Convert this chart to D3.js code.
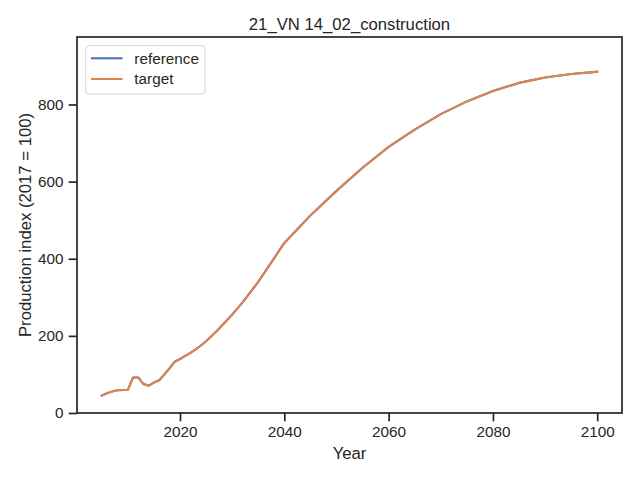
<!DOCTYPE html>
<html>
<head>
<meta charset="utf-8">
<script src="https://cdn.jsdelivr.net/npm/d3@7"></script>
<style>
  body { margin: 0; background: #fff; }
  text { font-family: "Liberation Sans", Arial, sans-serif; fill: #262626; }
</style>
</head>
<body>
<svg id="chart" width="640" height="480"></svg>
<script>
// data
const years = [2005, 2006, 2007, 2008, 2009, 2010, 2011, 2012, 2013, 2014, 2015, 2016, 2017, 2018, 2019,
  2020, 2021, 2022, 2023, 2024, 2025, 2027, 2030, 2032, 2035, 2037, 2040,
  2045, 2050, 2055, 2060, 2065, 2070, 2075, 2080, 2085, 2090, 2095, 2100]
const reference = [45, 51, 56, 59, 59.5, 60, 92, 92, 75, 71, 79, 85, 100, 116, 133,
  140, 148, 156, 165, 175, 186, 212, 255, 287, 340, 380, 441,
  512, 576, 636, 690, 735, 775, 808, 835, 856, 870, 879, 885]
const target = [45, 51, 56, 59, 59.5, 60, 92, 92, 75, 71, 79, 85, 100, 116, 133,
  140, 148, 156, 165, 175, 186, 212, 255, 287, 340, 380, 441,
  512, 576, 636, 690, 735, 775, 808, 835, 856, 870, 879, 885]
const xTicks = [2020, 2040, 2060, 2080, 2100]
const yTicks = [0, 200, 400, 600, 800]

const margin = { left: 77, right: 18, top: 37, bottom: 67 }
const w = 640, h = 480
const ink = '#262626'
const font = '"Liberation Sans", Arial, sans-serif'

const svg = d3.select('#chart')

const x = d3.scaleLinear().domain([2000.25, 2104.75]).range([margin.left, w - margin.right])
const y = d3.scaleLinear().domain([0, 975]).range([h - margin.bottom, margin.top])

// axes
const xAxis = svg.append('g').attr('transform', `translate(0,${h - margin.bottom})`)
  .call(d3.axisBottom(x).tickValues(xTicks).tickFormat(d3.format('d')).tickSizeOuter(0).tickSize(8.3).tickPadding(5))
const yAxis = svg.append('g').attr('transform', `translate(${margin.left},0)`)
  .call(d3.axisLeft(y).tickValues(yTicks).tickSizeOuter(0).tickSize(8.3).tickPadding(5.2))

;[xAxis, yAxis].forEach(a => {
  a.select('.domain').remove()
  a.selectAll('.tick line').attr('stroke', ink).attr('stroke-width', 1.7)
  a.selectAll('.tick text').attr('fill', ink).style('font-size', '15.3px').style('font-family', font)
})

// lines
const line = vals => d3.line().x((d, i) => x(years[i])).y(d => y(d))(vals)
const series = [
  { name: 'reference', values: reference, color: '#4c72b0' },
  { name: 'target', values: target, color: '#dd8452' }
]
svg.selectAll('path.series').data(series).join('path').attr('class', 'series')
  .attr('d', d => line(d.values)).attr('fill', 'none')
  .attr('stroke', d => d.color).attr('stroke-width', 2.1)
  .attr('stroke-linejoin', 'round').attr('stroke-linecap', 'square')

// frame
svg.append('rect')
  .attr('x', margin.left).attr('y', margin.top)
  .attr('width', w - margin.left - margin.right).attr('height', h - margin.top - margin.bottom)
  .attr('fill', 'none').attr('stroke', ink).attr('stroke-width', 1.7)

// title and labels
svg.append('text').attr('x', (margin.left + w - margin.right) / 2).attr('y', 29.5)
  .attr('text-anchor', 'middle').style('font-size', '16.7px').text('21_VN 14_02_construction')
svg.append('text').attr('x', (margin.left + w - margin.right) / 2).attr('y', 459)
  .attr('text-anchor', 'middle').style('font-size', '16.7px').text('Year')
svg.append('text')
  .attr('transform', `translate(30.5,${(margin.top + h - margin.bottom) / 2}) rotate(-90)`)
  .attr('text-anchor', 'middle').style('font-size', '16.7px').text('Production index (2017 = 100)')

// legend
const lg = svg.append('g')
lg.append('rect').attr('x', 85.7).attr('y', 45.7).attr('width', 119.3).attr('height', 48.3)
  .attr('rx', 3).attr('fill', '#fff').attr('fill-opacity', 0.8)
  .attr('stroke', '#d6d6d6').attr('stroke-width', 1)
lg.selectAll('g.item').data(series).join('g').attr('class', 'item')
  .attr('transform', (d, i) => `translate(0,${58.3 + i * 20.7})`)
  .each(function (d) {
    const g = d3.select(this)
    g.append('line').attr('x1', 91).attr('x2', 122.5).attr('y1', 0).attr('y2', 0)
      .attr('stroke', d.color).attr('stroke-width', 2.1)
    g.append('text').attr('x', 134.3).attr('y', 5.4).style('font-size', '15.3px').text(d.name)
  })
</script>
</body>
</html>
